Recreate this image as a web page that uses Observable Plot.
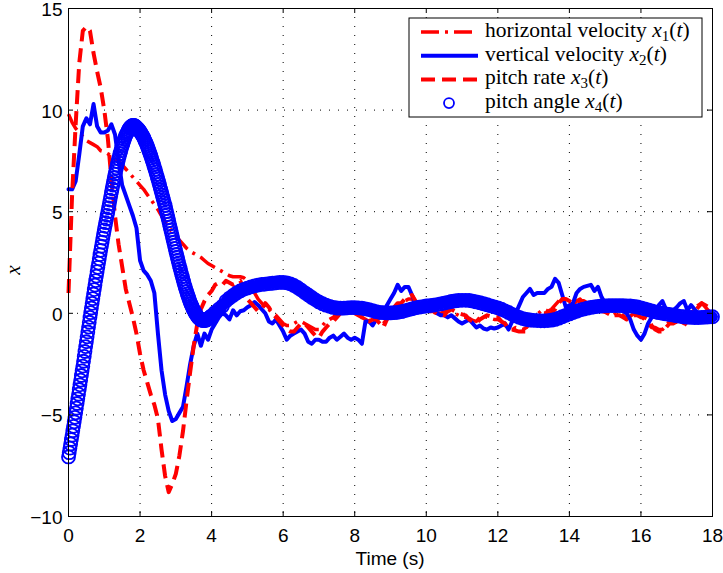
<!DOCTYPE html>
<html><head><meta charset="utf-8">
<script src="https://cdn.jsdelivr.net/npm/d3@7"></script>
<script src="https://cdn.jsdelivr.net/npm/@observablehq/plot@0.6"></script>
<style>
body{margin:0;background:#fff;}
#wrap{position:relative;width:723px;height:573px;}
</style></head><body><div id="wrap"></div>
<script>
// ---- tick values ----
const xTicks = [0, 2, 4, 6, 8, 10, 12, 14, 16, 18];
const yTicks = [-10, -5, 0, 5, 10, 15];
const xLabel = "Time (s)";
const yLabel = "x";
const legendLabels = ["horizontal velocity", "vertical velocity", "pitch rate", "pitch angle"];

// ---- pitch angle x4(t): dense part, t = 0 .. 4 s every 0.02 s ----
const pitchAngleFastStep = 0.02;
const pitchAngleFast = [
  -7.07,-6.86,-6.64,-6.43,-6.21, -6.00,-5.78,-5.56,-5.34,-5.12,
  -4.90,-4.67,-4.44,-4.21,-3.98, -3.75,-3.52,-3.29,-3.06,-2.83,
  -2.60,-2.36,-2.12,-1.88,-1.64, -1.40,-1.16,-0.92,-0.68,-0.44,
  -0.20,0.03,0.26,0.49,0.72, 0.95,1.17,1.39,1.61,1.83,
  2.05,2.26,2.47,2.68,2.89, 3.10,3.30,3.50,3.70,3.90,
  4.10,4.28,4.46,4.64,4.82, 5.00,5.19,5.38,5.57,5.76,
  5.95,6.13,6.31,6.49,6.67, 6.85,7.00,7.15,7.30,7.45,
  7.60,7.73,7.86,7.99,8.12, 8.25,8.35,8.45,8.55,8.65,
  8.75,8.82,8.89,8.96,9.03, 9.10,9.14,9.18,9.21,9.23,
  9.25,9.25,9.24,9.22,9.19, 9.15,9.12,9.08,9.04,9.00,
  8.95,8.89,8.83,8.77,8.71, 8.65,8.57,8.49,8.41,8.33,
  8.25,8.15,8.05,7.95,7.85, 7.75,7.64,7.53,7.42,7.31,
  7.20,7.08,6.96,6.84,6.72, 6.60,6.47,6.34,6.21,6.08,
  5.95,5.82,5.69,5.56,5.43, 5.30,5.15,5.00,4.85,4.70,
  4.55,4.40,4.25,4.10,3.95, 3.80,3.65,3.50,3.35,3.20,
  3.05,2.90,2.76,2.62,2.48, 2.34,2.20,2.07,1.94,1.81,
  1.68,1.55,1.43,1.31,1.19, 1.07,0.96,0.86,0.76,0.66,
  0.56,0.47,0.39,0.31,0.23, 0.15,0.09,0.03,-0.03,-0.09,
  -0.15,-0.19,-0.23,-0.26,-0.29, -0.32,-0.33,-0.34,-0.35,-0.36,
  -0.36,-0.35,-0.34,-0.32,-0.30, -0.28,-0.25,-0.22,-0.19,-0.16,
  -0.12
];
// ---- pitch angle x4(t): t = 4.1 .. 18 s every 0.1 s ----
const pitchAngleSlowStart = 4.1;
const pitchAngleSlowStep = 0.1;
const pitchAngleSlow = [
  0.05,0.2,0.35,0.6,0.75,0.88,1.0,1.1,1.18,1.24,
  1.3,1.35,1.39,1.42,1.44,1.46,1.48,1.5,1.52,1.52,
  1.5,1.45,1.37,1.27,1.15,1.02,0.9,0.78,0.66,0.56,
  0.47,0.4,0.34,0.29,0.26,0.25,0.25,0.27,0.28,0.28,
  0.27,0.25,0.22,0.18,0.13,0.08,0.05,0.03,0.02,0.02,
  0.03,0.05,0.08,0.12,0.17,0.22,0.27,0.3,0.33,0.36,
  0.38,0.4,0.43,0.46,0.5,0.54,0.58,0.61,0.63,0.64,
  0.64,0.63,0.6,0.56,0.52,0.47,0.42,0.37,0.32,0.27,
  0.2,0.12,0.04,-0.05,-0.13,-0.2,-0.26,-0.3,-0.33,-0.35,
  -0.36,-0.37,-0.37,-0.36,-0.34,-0.3,-0.24,-0.17,-0.1,-0.03,
  0.04,0.1,0.16,0.21,0.25,0.29,0.32,0.34,0.36,0.37,
  0.38,0.38,0.38,0.38,0.38,0.37,0.36,0.34,0.31,0.27,
  0.22,0.17,0.12,0.07,0.03,0,-0.03,-0.06,-0.09,-0.12,
  -0.15,-0.17,-0.19,-0.2,-0.21,-0.21,-0.2,-0.19,-0.18,-0.17
];

// ---- x1, x2, x3: t = 0 .. 18 s every 0.1 s ----
const stateStep = 0.1;
const horizontalVelocity = [
  9.8,9.4,9.1,8.9,8.7,8.5,8.4,8.3,8.2,8.0,
  7.95,7.85,7.75,7.6,7.5,7.3,7.1,6.9,6.7,6.5,
  6.3,6.1,5.85,5.6,5.35,5.1,4.8,4.5,4.25,4.0,
  3.8,3.6,3.4,3.2,3.05,2.95,2.85,2.75,2.6,2.45,
  2.35,2.25,2.15,2.05,1.95,1.85,1.8,1.8,1.8,1.75,
  1.6,1.3,1.0,0.7,0.5,0.3,0.2,0.0,-0.1,-0.3,
  -0.5,-0.6,-0.6,-0.5,-0.4,-0.4,-0.5,-0.6,-0.7,-0.8,
  -0.8,-0.6,-0.4,-0.3,-0.2,0.0,0.1,0.2,0.3,0.3,
  0.2,0.0,-0.2,-0.3,-0.4,-0.2,-0.3,-0.4,-0.5,-0.3,
  0.0,0.2,0.4,0.5,0.6,0.7,0.7,0.5,0.3,0.2,
  0.15,0.1,0.05,0.0,0.0,0.05,0.15,0.1,0.0,-0.1,
  -0.2,-0.2,-0.25,-0.35,-0.4,-0.2,-0.1,-0.2,-0.25,-0.3,
  -0.3,-0.4,-0.6,-0.7,-0.8,-0.7,-0.75,-0.8,-0.7,-0.5,
  -0.2,-0.05,0.1,0.2,0.1,0.2,0.4,0.6,0.8,0.6,
  0.5,0.4,0.6,0.7,0.5,0.4,0.6,0.4,0.2,0.1,
  0.05,-0.05,-0.15,0.0,-0.1,-0.1,-0.25,-0.15,0.0,-0.1,
  -0.15,-0.3,-0.5,-0.7,-0.7,-0.8,-0.8,-0.6,-0.4,-0.45,
  -0.3,-0.4,-0.5,-0.3,0.0,0.2,0.4,0.5,0.3,0.1,
  0.0
];
const verticalVelocity = [
  6.1,6.1,6.5,7.8,9.2,9.6,9.3,10.3,9.2,8.9,
  8.9,9.0,9.3,8.8,7.5,6.3,5.8,5.3,4.8,4.2,
  2.6,2.1,1.9,1.6,1.0,-1.0,-2.8,-4.0,-4.8,-5.3,
  -5.2,-4.9,-4.6,-3.6,-2.5,-1.6,-1.0,-1.6,-1.0,-1.3,
  -0.8,-0.5,-0.2,0.0,-0.1,-0.3,0.15,-0.1,0.1,0.15,
  0.3,0.4,0.55,0.4,0.2,0.0,-0.4,-0.5,-0.3,-0.6,
  -0.9,-1.3,-1.1,-1.0,-0.9,-0.8,-1.0,-1.4,-1.5,-1.3,
  -1.3,-1.4,-1.4,-1.2,-1.1,-1.3,-1.15,-1.0,-1.2,-1.3,
  -1.2,-1.3,-1.5,-0.4,-0.4,-0.6,-0.3,-0.2,0.0,0.4,
  0.7,1.0,1.4,1.1,1.3,1.3,0.9,0.5,0.4,0.2,
  0.2,0.1,0.2,0.0,-0.1,-0.1,-0.2,-0.1,-0.25,-0.4,
  -0.5,-0.4,-0.3,-0.5,-0.7,-0.6,-0.75,-0.8,-0.7,-0.75,
  -0.7,-0.6,-0.5,-0.8,-0.4,0.0,0.4,0.8,1.0,1.2,
  0.9,1.0,1.0,1.0,1.2,1.3,1.7,1.5,0.9,0.3,
  0.4,0.5,1.0,1.2,1.3,1.35,1.4,1.1,1.3,0.8,
  0.5,0.4,0.3,0.3,0.2,0.1,0.0,-0.3,-0.8,-1.1,
  -1.3,-1.0,-0.5,-0.2,0.1,0.4,0.6,0.2,0.1,0.15,
  0.3,0.5,0.6,0.15,0.4,0.2,0.0,-0.1,-0.2,-0.3,
  -0.3
];
const pitchRate = [
  1.0,5.8,9.3,12.3,13.9,14.1,13.9,12.8,11.9,11.1,
  10.0,8.6,6.6,4.8,3.4,2.3,1.2,0.5,-0.2,-1.0,
  -2.0,-2.8,-3.4,-4.0,-4.5,-5.2,-6.7,-8.0,-8.8,-8.4,
  -7.9,-7.0,-5.8,-4.3,-2.9,-1.6,-0.5,0.2,0.6,0.9,
  1.1,1.4,1.5,1.4,1.6,1.5,1.4,1.5,1.6,1.2,
  0.7,0.5,0.3,0.1,0.2,0.5,0.3,0.0,-0.2,-0.4,
  -0.6,-0.8,-0.9,-0.9,-0.7,-0.5,-0.5,-0.7,-0.9,-1.1,
  -1.2,-0.9,-0.7,-0.5,-0.4,-0.2,0.0,0.1,0.2,0.1,
  0.0,-0.1,-0.2,-0.35,-0.4,-0.3,-0.3,-0.5,-0.7,-0.3,
  0.1,0.3,0.5,0.5,0.7,0.8,0.9,0.6,0.4,0.2,
  0.2,0.1,0.1,0.0,0.0,-0.1,0.1,0.2,0.1,0.0,
  -0.05,-0.1,-0.3,-0.4,-0.5,-0.3,-0.2,-0.1,-0.15,-0.2,
  -0.2,-0.4,-0.5,-0.8,-0.8,-0.85,-0.9,-0.9,-0.9,-0.6,
  -0.3,-0.1,0.0,0.0,0.0,0.0,0.2,0.5,0.7,0.7,
  0.6,0.5,0.5,0.6,0.6,0.5,0.5,0.5,0.3,0.2,
  0.1,0.0,-0.1,-0.1,-0.1,-0.2,-0.3,-0.2,-0.1,-0.1,
  -0.2,-0.2,-0.3,-0.6,-0.8,-0.9,-0.9,-0.7,-0.5,-0.5,
  -0.4,-0.5,-0.6,-0.4,-0.1,0.05,0.3,0.5,0.4,0.3,
  0.2
];

// ---- tables built from the arrays ----
const rows = (arr, t0, dt) => arr.map((v, i) => ({t: +(t0 + i * dt).toFixed(3), v}));
const x1Rows = rows(horizontalVelocity, 0, stateStep);
const x2Rows = rows(verticalVelocity, 0, stateStep);
const x3Rows = rows(pitchRate, 0, stateStep);
const x4Fast = rows(pitchAngleFast, 0, pitchAngleFastStep);
const x4Slow = rows(pitchAngleSlow, pitchAngleSlowStart, pitchAngleSlowStep);
const x4Rows = x4Fast.concat(x4Slow);

const W = 723, H = 573;
const mL = 68, mR = 11, mT = 8, mB = 57;
const fw = W - mL - mR, fh = H - mT - mB;
const RED = "#ff0000", BLUE = "#0000ff";
const minus = d => d < 0 ? "\u2212" + Math.abs(d) : String(d);

const chart = Plot.plot({
  width: W, height: H,
  marginLeft: mL, marginRight: mR, marginTop: mT, marginBottom: mB,
  x: {domain: [0, 18]},
  y: {domain: [-10, 15]},
  style: {fontFamily: "'Liberation Sans', Arial, sans-serif", fontSize: "19px", color: "#000", background: "#fff"},
  marks: [
    Plot.ruleX(xTicks, {stroke: "#000", strokeWidth: 1, strokeDasharray: "1,8"}),
    Plot.ruleY(yTicks, {stroke: "#000", strokeWidth: 1, strokeDasharray: "1,8"}),
    Plot.line(x1Rows, {x: "t", y: "v", stroke: RED, strokeWidth: 3.5, strokeDasharray: "18,6,3,6", strokeLinecap: "butt"}),
    Plot.line(x2Rows, {x: "t", y: "v", stroke: BLUE, strokeWidth: 4}),
    Plot.line(x3Rows, {x: "t", y: "v", stroke: RED, strokeWidth: 4, strokeDasharray: "14,7", strokeLinecap: "butt"}),
    Plot.line(x4Slow, {x: "t", y: "v", stroke: BLUE, strokeWidth: 11}),
    Plot.dot(x4Rows, {x: "t", y: "v", r: 6.5, stroke: BLUE, strokeWidth: 1.8, fill: "none"}),
    Plot.frame({stroke: "#000", strokeWidth: 1}),
    Plot.tickX(xTicks, {stroke: "#000", insetTop: fh - 5}),
    Plot.tickX(xTicks, {stroke: "#000", insetBottom: fh - 5}),
    Plot.tickY(yTicks, {stroke: "#000", insetRight: fw - 5}),
    Plot.tickY(yTicks, {stroke: "#000", insetLeft: fw - 5}),
    Plot.axisX({ticks: xTicks, tickSize: 0, tickPadding: 12, label: null, tickFormat: minus}),
    Plot.axisY({ticks: yTicks, tickSize: 0, tickPadding: 6, label: null, tickFormat: minus, dy: 1.5})
  ]
});
document.getElementById("wrap").appendChild(chart);

// ---- axis titles and legend ----
const svg = d3.select(chart);
svg.append("text").attr("x", mL + fw / 2).attr("y", 565).attr("text-anchor", "middle")
  .attr("font-family", "'Liberation Sans', Arial, sans-serif").attr("font-size", 19).attr("fill", "#000").text(xLabel);
svg.append("text").attr("transform", `translate(20,${mT + fh / 2 + 8}) rotate(-90)`).attr("text-anchor", "middle")
  .attr("font-family", "'Liberation Serif', serif").attr("font-style", "italic").attr("font-size", 21).attr("fill", "#000").text(yLabel);

const lg = svg.append("g").attr("transform", "translate(409,18)");
lg.append("rect").attr("width", 293).attr("height", 99).attr("fill", "#fff").attr("stroke", "#000").attr("stroke-width", 1);
const samples = [
  {stroke: RED, dash: "18,6,3,6", w: 3.5},
  {stroke: BLUE, dash: null, w: 4},
  {stroke: RED, dash: "14,7", w: 4},
  {circle: true}
];
legendLabels.forEach((lab, i) => {
  const base = 19 + i * 23.7;
  const sy = base - 5;
  const s = samples[i];
  if (s.circle) {
    lg.append("circle").attr("cx", 40).attr("cy", sy).attr("r", 5).attr("fill", "none").attr("stroke", BLUE).attr("stroke-width", 1.8);
  } else {
    const ln = lg.append("line").attr("x1", 12).attr("x2", 69).attr("y1", sy).attr("y2", sy)
      .attr("stroke", s.stroke).attr("stroke-width", s.w);
    if (s.dash) ln.attr("stroke-dasharray", s.dash);
  }
  const t = lg.append("text").attr("x", 76).attr("y", base).attr("text-anchor", "start")
    .attr("font-family", "'Liberation Serif', serif").attr("font-size", 21.5).attr("fill", "#000");
  t.append("tspan").text(lab + " ");
  t.append("tspan").attr("font-style", "italic").text("x");
  t.append("tspan").attr("font-size", 15).attr("dy", 4).text(String(i + 1));
  t.append("tspan").attr("dy", -4).text("(");
  t.append("tspan").attr("font-style", "italic").text("t");
  t.append("tspan").text(")");
});
</script>
</body></html>
